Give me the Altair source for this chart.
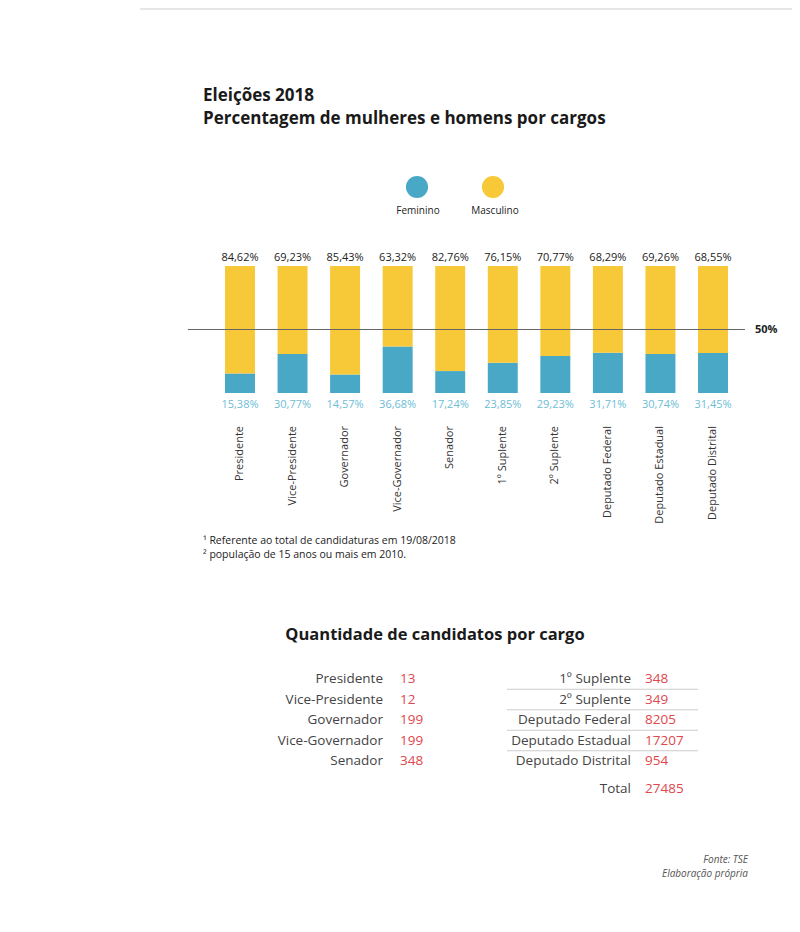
import altair as alt
import pandas as pd

# ---------------- data ----------------
cargos = ["Presidente", "Vice-Presidente", "Governador", "Vice-Governador", "Senador",
          "1º Suplente", "2º Suplente", "Deputado Federal", "Deputado Estadual", "Deputado Distrital"]
masculino = [84.62, 69.23, 85.43, 63.32, 82.76, 76.15, 70.77, 68.29, 69.26, 68.55]
feminino = [15.38, 30.77, 14.57, 36.68, 17.24, 23.85, 29.23, 31.71, 30.74, 31.45]
quantidades = [13, 12, 199, 199, 348, 348, 349, 8205, 17207, 954]
total_candidatos = 27485
sexos = ["Feminino", "Masculino"]
cores = ["#48A8C6", "#F7C837"]
linha_referencia = [50]
titulo = ["Eleições 2018", "Percentagem de mulheres e homens por cargos"]
notas = ["¹ Referente ao total de candidaturas em 19/08/2018",
         "² população de 15 anos ou mais em 2010."]
titulo_tabela = "Quantidade de candidatos por cargo"
fonte = ["Fonte: TSE", "Elaboração própria"]

FONT = "Open Sans"
RED = "#E0474C"
GRAY = "#444444"


def fmt_pct(v):
    return f"{v:.2f}".replace(".", ",") + "%"


n = len(cargos)
bars_df = pd.DataFrame({
    "cargo": cargos + cargos,
    "sexo": ["Feminino"] * n + ["Masculino"] * n,
    "pct": feminino + masculino,
    "ordem": [0] * n + [1] * n,
})
bars_df["label"] = bars_df["pct"].map(fmt_pct)

cargos_df = pd.DataFrame({"cargo": cargos})
ref_df = pd.DataFrame({"v": linha_referencia})
legend_df = pd.DataFrame({"sexo": sexos})

left_df = pd.DataFrame({"row": list(range(5)), "cargo": cargos[:5], "qtd": quantidades[:5]})
right_df = pd.DataFrame({"row": list(range(5)), "cargo": cargos[5:], "qtd": quantidades[5:]})
sep_df = right_df.iloc[:4]
total_df = pd.DataFrame({"cargo": ["Total"], "qtd": [total_candidatos]})

# ---------------- scales ----------------
x_scale = alt.Scale(domain=cargos, range=[205.7, 731.3], paddingInner=0.43, paddingOuter=0.215)
y_scale = alt.Scale(domain=[0, 100], range=[385, 258], nice=False, zero=False)
color_scale = alt.Scale(domain=sexos, range=cores)
row_scale = alt.Scale(domain=[0, 4], range=[671, 753], nice=False, zero=False)

X = alt.X("cargo:N", scale=x_scale, axis=None)


def block_text(lines, x, y, line_height, **kw):
    """One multi-line text item (lines joined with a line break)."""
    df = pd.DataFrame({"t": ["\n".join(lines)]})
    params = dict(font=FONT, baseline="top", lineBreak="\n", lineHeight=line_height)
    params.update(kw)
    return alt.Chart(df).mark_text(**params).encode(
        x=alt.value(x), y=alt.value(y), text="t:N")


layers = []

# top gray rule
layers.append(alt.Chart(ref_df).mark_rule(color="#e6e6e6", strokeWidth=2).encode(
    x=alt.value(132), x2=alt.value(784), y=alt.value(1)))

# title (single multi-line text)
layers.append(block_text(titulo, 195, 80, 22.5, align="left", fontSize=17,
                         fontWeight="bold", color="#1a1a1a"))

# legend
layers.append(alt.Chart(legend_df).mark_circle(size=490, opacity=1).encode(
    x=alt.X("sexo:N", scale=alt.Scale(type="point", domain=sexos, range=[409, 485], padding=0), axis=None),
    y=alt.value(179),
    color=alt.Color("sexo:N", scale=color_scale, legend=None),
))
layers.append(alt.Chart(legend_df).mark_text(font=FONT, fontSize=10, color="#222",
                                             baseline="middle").encode(
    x=alt.X("sexo:N", scale=alt.Scale(type="point", domain=sexos, range=[410, 487], padding=0), axis=None),
    y=alt.value(203),
    text="sexo:N",
))

# bars
layers.append(alt.Chart(bars_df).mark_bar().encode(
    x=X,
    y=alt.Y("pct:Q", stack="zero", scale=y_scale, axis=None),
    color=alt.Color("sexo:N", scale=color_scale, legend=None),
    order=alt.Order("ordem:Q"),
))

# 50% reference line
layers.append(alt.Chart(ref_df).mark_rule(color="#666666", strokeWidth=1).encode(
    x=alt.value(180), x2=alt.value(737),
    y=alt.Y("v:Q", scale=y_scale, axis=None),
))
layers.append(alt.Chart(ref_df).transform_calculate(lbl="datum.v + '%'").mark_text(
    font=FONT, fontSize=11, fontWeight="bold", color="#222", align="left", baseline="middle"
).encode(
    x=alt.value(747),
    y=alt.Y("v:Q", scale=y_scale, axis=None),
    text="lbl:N",
))

# value labels
layers.append(alt.Chart(bars_df).transform_filter("datum.sexo == 'Masculino'").transform_calculate(
    pos="100").mark_text(font=FONT, fontSize=11, color="#222", baseline="alphabetic", dy=-5).encode(
    x=X, y=alt.Y("pos:Q", scale=y_scale, axis=None), text="label:N"))
layers.append(alt.Chart(bars_df).transform_filter("datum.sexo == 'Feminino'").transform_calculate(
    pos="0").mark_text(font=FONT, fontSize=11, color="#6DBDD5", baseline="top", dy=6).encode(
    x=X, y=alt.Y("pos:Q", scale=y_scale, axis=None), text="label:N"))

# category labels (rotated)
layers.append(alt.Chart(cargos_df).mark_text(font=FONT, fontSize=11, color="#333", angle=270,
                                             align="right", baseline="middle").encode(
    x=X, y=alt.value(418), text="cargo:N"))

# footnotes
layers.append(block_text(notas, 195, 528, 14, align="left", fontSize=10.5, color="#222"))

# table title
layers.append(block_text([titulo_tabela], 427, 619, 20, align="center", fontSize=16.5,
                         fontWeight="bold", color="#1a1a1a"))

# left table
layers.append(alt.Chart(left_df).mark_text(font=FONT, fontSize=13.5, color=GRAY, align="right",
                                           baseline="middle").encode(
    x=alt.value(375), y=alt.Y("row:Q", scale=row_scale, axis=None), text="cargo:N"))
layers.append(alt.Chart(left_df).mark_text(font=FONT, fontSize=13.5, color=RED, align="left",
                                           baseline="middle").encode(
    x=alt.value(392), y=alt.Y("row:Q", scale=row_scale, axis=None), text="qtd:N"))

# right table separators
layers.append(alt.Chart(sep_df).transform_calculate(mid="datum.row + 0.5").mark_rule(
    color="#cccccc", strokeWidth=1).encode(
    x=alt.value(499), x2=alt.value(690), y=alt.Y("mid:Q", scale=row_scale, axis=None)))
layers.append(alt.Chart(right_df).mark_text(font=FONT, fontSize=13.5, color=GRAY, align="right",
                                            baseline="middle").encode(
    x=alt.value(623), y=alt.Y("row:Q", scale=row_scale, axis=None), text="cargo:N"))
layers.append(alt.Chart(right_df).mark_text(font=FONT, fontSize=13.5, color=RED, align="left",
                                            baseline="middle").encode(
    x=alt.value(637), y=alt.Y("row:Q", scale=row_scale, axis=None), text="qtd:N"))

# total
layers.append(alt.Chart(total_df).mark_text(font=FONT, fontSize=13.5, color=GRAY, align="right",
                                            baseline="middle").encode(
    x=alt.value(623), y=alt.value(781), text="cargo:N"))
layers.append(alt.Chart(total_df).mark_text(font=FONT, fontSize=13.5, color=RED, align="left",
                                            baseline="middle").encode(
    x=alt.value(637), y=alt.value(781), text="qtd:N"))

# source
layers.append(block_text(fonte, 740, 847, 14, align="right", fontSize=10, fontStyle="italic",
                         color="#555"))

chart = alt.layer(*layers).resolve_scale(
    x="independent", y="independent"
).properties(
    width=784, height=900, padding=0,
    autosize=alt.AutoSizeParams(type="none"),
).configure_view(stroke=None)

chart.save("out.html", embed_options={"renderer": "svg", "actions": False})
